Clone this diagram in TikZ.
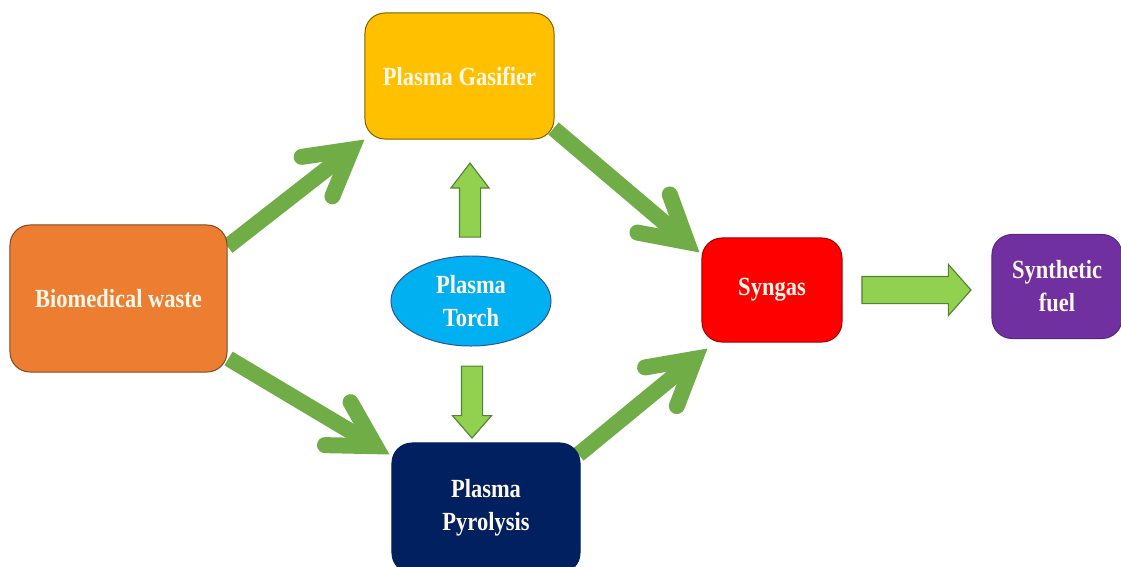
\documentclass[tikz,border=0pt]{standalone}
\usepackage{fontspec}
\newfontfamily\lbl{Liberation Serif}[FakeStretch=0.86]
\usetikzlibrary{arrows.meta,shapes.geometric,shapes.arrows,calc,backgrounds}
\definecolor{cOrange}{HTML}{ED7D31}
\definecolor{cOrangeB}{HTML}{7A4A2A}
\definecolor{cYellow}{HTML}{FFC000}
\definecolor{cYellowB}{HTML}{7F6000}
\definecolor{cNavy}{HTML}{002060}
\definecolor{cRed}{HTML}{FF0000}
\definecolor{cRedB}{HTML}{A00000}
\definecolor{cPurple}{HTML}{7030A0}
\definecolor{cCyan}{HTML}{00B0F0}
\definecolor{cCyanB}{HTML}{2F5597}
\definecolor{cGreen}{HTML}{70AD47}
\definecolor{cGreenL}{HTML}{92D050}
\definecolor{cGreenD}{HTML}{548235}
\definecolor{cText}{HTML}{FFF8EA}
\begin{document}
\begin{tikzpicture}[x=0.025cm,y=-0.025cm,
  box/.style={line width=0.7pt, rounded corners=0.5cm, inner sep=0pt, align=center,
    text=cText, font=\lbl\bfseries\fontsize{18.6}{23.5}\selectfont},
  flow/.style={draw=cGreen, line width=0.4cm,
    -{Straight Barb[length=1.1cm,width=1.25cm,line cap=round,line join=miter]}},
  blk/.style={single arrow, draw=cGreenD, fill=cGreenL, line width=0.8pt,
    inner xsep=0pt, single arrow head indent=0pt}]
\useasboundingbox (0,0) rectangle (1121,567);
\clip (0,0) rectangle (1121,567);

\node[box, draw=cOrangeB, fill=cOrange, minimum width=5.425cm, minimum height=3.675cm]
  (waste) at (118.5,298.5) {Biomedical waste};
\node[box, draw=cYellowB, fill=cYellow, minimum width=4.725cm, minimum height=3.15cm]
  (gas) at (459.5,76) {Plasma Gasifier};
\node[box, draw=cNavy, fill=cNavy, minimum width=4.7cm, minimum height=3.25cm]
  (pyro) at (486,508) {Plasma\\Pyrolysis};
\node[box, draw=cRedB, fill=cRed, minimum width=3.5cm, minimum height=2.6cm]
  (syn) at (772,290) {Syngas};
\node[box, draw=cPurple!80!black, fill=cPurple, minimum width=3.25cm, minimum height=2.6cm]
  (fuel) at (1057,286.5) {Synthetic\\fuel};
\node[ellipse, draw=cCyanB, fill=cCyan, line width=0.7pt, inner sep=0pt, align=center,
  text=cText, font=\lbl\bfseries\fontsize{18.6}{23.5}\selectfont,
  minimum width=4cm, minimum height=2.25cm] (torch) at (471,301) {Plasma\\Torch};

\node[blk, rotate=90, minimum height=1.85cm, inner ysep=0.25cm,
  single arrow head extend=0.2125cm, single arrow tip angle=75] (up) at (470,207) {};
\node[blk, rotate=-90, minimum height=1.8cm, inner ysep=0.25cm,
  single arrow head extend=0.225cm, single arrow tip angle=82] (down) at (472,396) {};
\node[blk, minimum height=2.725cm, inner ysep=0.325cm,
  single arrow head extend=0.3cm, single arrow tip angle=97] (right) at (910.5,290) {};

\begin{scope}[on background layer]
\fill[white] (0,0) rectangle (1121,567);
\draw[flow] ($(waste.north east)+(0,22)$) -- (gas.south west);
\draw[flow] ($(gas.south east)+(-1,-11)$) -- ($(syn.north west)+(-2,15)$);
\draw[flow] ($(waste.south east)+(1,-14)$) -- ($(pyro.north west)+(-2,12)$);
\draw[flow] ($(pyro.north east)+(-2,12)$) -- ($(syn.south west)+(6,6)$);
\end{scope}
\end{tikzpicture}
\end{document}
